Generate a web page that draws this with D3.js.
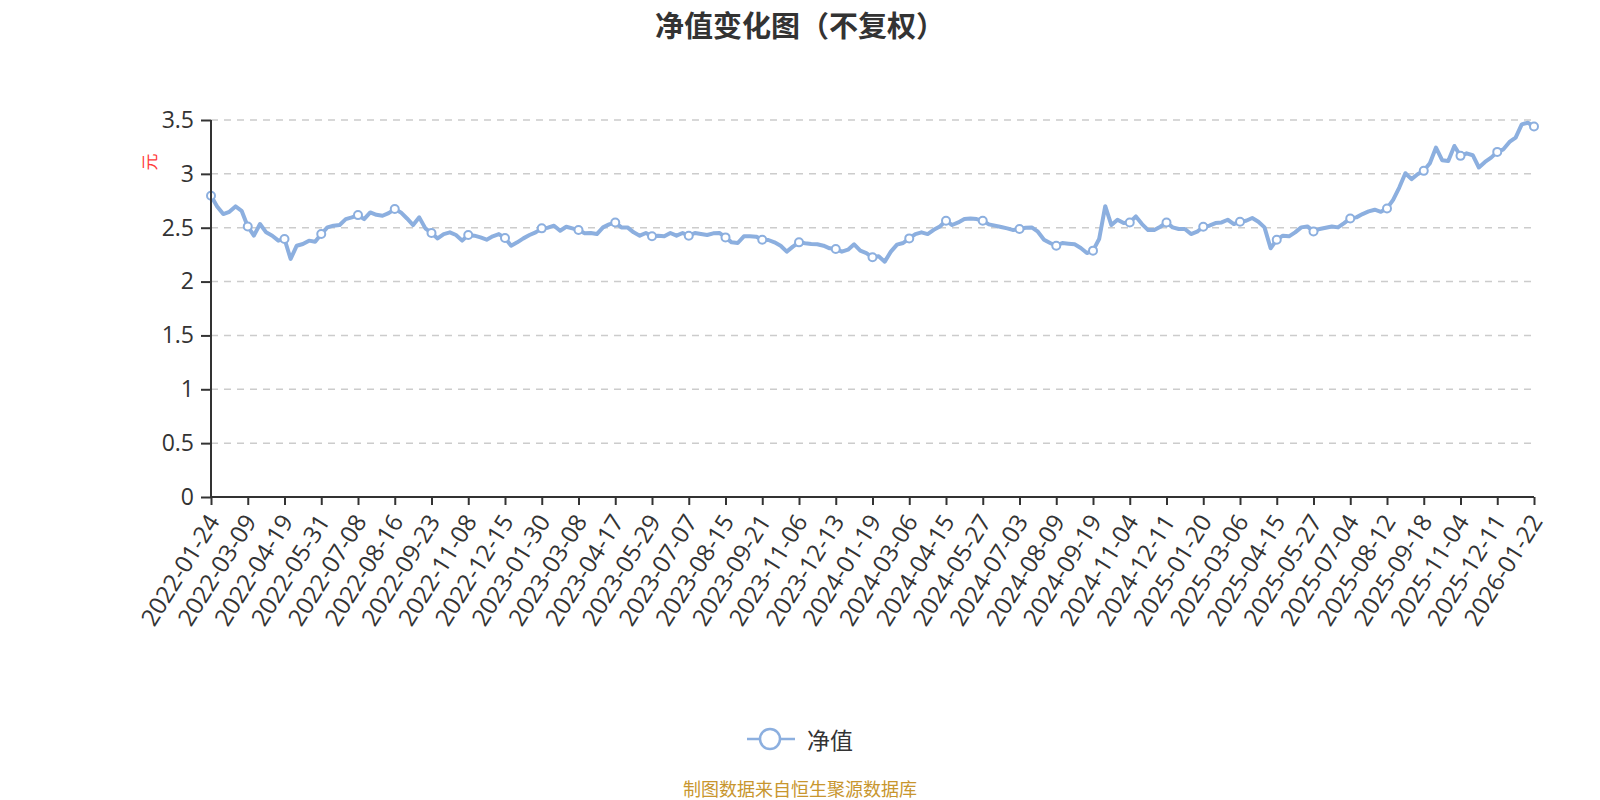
<!DOCTYPE html>
<html>
<head>
<meta charset="utf-8">
<script src="https://cdn.jsdelivr.net/npm/d3@7"></script>
<style>
  html, body { margin: 0; padding: 0; background: #fff; }
  #chart { width: 1600px; height: 800px; }
</style>
</head>
<body>
<div id="chart"></div>
<script>
/* Access data */
var chartTitle = "净值变化图（不复权）";
var seriesName = "净值";
var yUnit = "元";
var sourceNote = "制图数据来自恒生聚源数据库";

var tickLabels = [
  "2022-01-24", "2022-03-09", "2022-04-19", "2022-05-31", "2022-07-08", "2022-08-16",
  "2022-09-23", "2022-11-08", "2022-12-15", "2023-01-30", "2023-03-08", "2023-04-17",
  "2023-05-29", "2023-07-07", "2023-08-15", "2023-09-21", "2023-11-06", "2023-12-13",
  "2024-01-19", "2024-03-06", "2024-04-15", "2024-05-27", "2024-07-03", "2024-08-09",
  "2024-09-19", "2024-11-04", "2024-12-11", "2025-01-20", "2025-03-06", "2025-04-15",
  "2025-05-27", "2025-07-04", "2025-08-12", "2025-09-18", "2025-11-04", "2025-12-11",
  "2026-01-22"
];

// unit net value, 6 readings per labelled interval
var navValues = [
  2.796, 2.698, 2.627, 2.648, 2.698, 2.657,
  2.512, 2.426, 2.534, 2.457, 2.426, 2.380,
  2.395, 2.210, 2.333, 2.349, 2.380, 2.370,
  2.441, 2.503, 2.519, 2.525, 2.580, 2.596,
  2.617, 2.580, 2.642, 2.620, 2.611, 2.636,
  2.673, 2.642, 2.586, 2.525, 2.596, 2.494,
  2.451, 2.401, 2.441, 2.457, 2.432, 2.380,
  2.432, 2.426, 2.410, 2.389, 2.420, 2.441,
  2.404, 2.333, 2.364, 2.401, 2.432, 2.457,
  2.494, 2.500, 2.519, 2.472, 2.509, 2.494,
  2.478, 2.448, 2.451, 2.441, 2.503, 2.531,
  2.549, 2.503, 2.503, 2.457, 2.426, 2.451,
  2.420, 2.426, 2.420, 2.451, 2.426, 2.451,
  2.426, 2.451, 2.441, 2.432, 2.448, 2.451,
  2.410, 2.364, 2.358, 2.420, 2.420, 2.417,
  2.389, 2.386, 2.364, 2.333, 2.278, 2.324,
  2.364, 2.355, 2.349, 2.346, 2.333, 2.309,
  2.302, 2.278, 2.296, 2.346, 2.287, 2.265,
  2.225, 2.235, 2.185, 2.278, 2.343, 2.358,
  2.401, 2.441, 2.457, 2.441, 2.481, 2.512,
  2.565, 2.525, 2.549, 2.580, 2.586, 2.580,
  2.565, 2.531, 2.519, 2.506, 2.494, 2.478,
  2.488, 2.500, 2.503, 2.463, 2.389, 2.358,
  2.333, 2.358, 2.352, 2.346, 2.312, 2.265,
  2.287, 2.395, 2.700, 2.525, 2.574, 2.543,
  2.549, 2.605, 2.534, 2.478, 2.478, 2.509,
  2.549, 2.503, 2.488, 2.488, 2.441, 2.463,
  2.509, 2.519, 2.543, 2.549, 2.574, 2.534,
  2.556, 2.565, 2.590, 2.556, 2.503, 2.309,
  2.389, 2.426, 2.420, 2.457, 2.503, 2.512,
  2.466, 2.488, 2.500, 2.512, 2.503, 2.543,
  2.586, 2.596, 2.627, 2.651, 2.667, 2.648,
  2.679, 2.759, 2.873, 3.006, 2.951, 2.997,
  3.028, 3.099, 3.244, 3.127, 3.120, 3.259,
  3.167, 3.191, 3.173, 3.059, 3.111, 3.151,
  3.204, 3.228, 3.296, 3.336, 3.460, 3.475,
  3.440
];

var yTicks = [0, 0.5, 1, 1.5, 2, 2.5, 3, 3.5];
var pointsPerTick = 6;

var lineColor = "#8cafdf";
var axisColor = "#333";
var labelFont = "'Open Sans', 'Noto Sans CJK SC', sans-serif";
var cjkFont = "'Noto Sans CJK SC', 'Noto Sans', sans-serif";

// 2. Create chart dimensions
var dimensions = {
  width: 1600,
  height: 800,
  margin: { top: 120, right: 66, bottom: 303, left: 211 }
};
dimensions.boundedWidth = dimensions.width - dimensions.margin.left - dimensions.margin.right;
dimensions.boundedHeight = dimensions.height - dimensions.margin.top - dimensions.margin.bottom;

// 3. Draw canvas
var wrapper = d3.select("#chart")
  .append("svg")
  .attr("width", dimensions.width)
  .attr("height", dimensions.height);
var bounds = wrapper.append("g")
  .attr("transform", `translate(${dimensions.margin.left},${dimensions.margin.top})`);

// 4. Create scales
var indices = d3.range(navValues.length);
var xScale = d3.scalePoint()
  .domain(indices)
  .range([0, dimensions.boundedWidth]);
var yScale = d3.scaleLinear()
  .domain([0, 3.5])
  .range([dimensions.boundedHeight, 0]);

// gridlines
bounds.append("g")
  .selectAll("line")
  .data(yTicks.filter(d => d > 0))
  .join("line")
  .attr("x1", 0)
  .attr("x2", dimensions.boundedWidth)
  .attr("y1", d => yScale(d))
  .attr("y2", d => yScale(d))
  .attr("stroke", "#cccccc")
  .attr("stroke-width", 1.5)
  .attr("stroke-dasharray", "7,6");

// 5. Draw data
var lineGenerator = d3.line()
  .x((d, i) => xScale(i))
  .y(d => yScale(d));
bounds.append("path")
  .attr("d", lineGenerator(navValues))
  .attr("fill", "none")
  .attr("stroke", lineColor)
  .attr("stroke-width", 4)
  .attr("stroke-linejoin", "round");

var tickIdx = indices.filter(i => i % pointsPerTick === 0);
bounds.append("g")
  .selectAll("circle")
  .data(tickIdx)
  .join("circle")
  .attr("cx", i => xScale(i))
  .attr("cy", i => yScale(navValues[i]))
  .attr("r", 4)
  .attr("fill", "#fff")
  .attr("stroke", lineColor)
  .attr("stroke-width", 2);

// 6. Draw peripherals
var yAxis = bounds.append("g")
  .call(d3.axisLeft(yScale).tickValues(yTicks).tickSize(10).tickPadding(7).tickFormat(d3.format("~g")));
yAxis.select(".domain").attr("stroke", axisColor).attr("stroke-width", 2).attr("d", `M0,0V${dimensions.boundedHeight}`);
yAxis.selectAll(".tick line").attr("stroke", axisColor).attr("stroke-width", 2);
yAxis.selectAll(".tick text")
  .attr("fill", axisColor)
  .style("font-family", labelFont)
  .style("font-size", "23px");

var xAxis = bounds.append("g")
  .attr("transform", `translate(0,${dimensions.boundedHeight})`)
  .call(d3.axisBottom(xScale).tickValues(tickIdx).tickSize(8).tickFormat(i => tickLabels[i / pointsPerTick]));
xAxis.select(".domain").attr("stroke", axisColor).attr("stroke-width", 2).attr("d", `M0,0H${dimensions.boundedWidth}`);
xAxis.selectAll(".tick line").attr("stroke", axisColor).attr("stroke-width", 2);
xAxis.selectAll(".tick text")
  .attr("fill", axisColor)
  .attr("text-anchor", "end")
  .attr("dy", "0.35em")
  .attr("y", 0)
  .attr("transform", "translate(2,20) rotate(-58)")
  .style("font-family", labelFont)
  .style("font-size", "24px");

// unit label
wrapper.append("text")
  .attr("transform", "translate(148,162) rotate(-90)")
  .attr("text-anchor", "middle")
  .attr("dominant-baseline", "central")
  .attr("fill", "#ff3b3b")
  .style("font-family", cjkFont)
  .style("font-size", "17px")
  .text(yUnit);

// title
wrapper.append("text")
  .attr("x", dimensions.width / 2)
  .attr("y", 24)
  .attr("text-anchor", "middle")
  .attr("dominant-baseline", "central")
  .attr("fill", "#333")
  .style("font-family", cjkFont)
  .style("font-weight", "bold")
  .style("font-size", "29px")
  .text(chartTitle);

// legend
var legend = wrapper.append("g").attr("transform", "translate(747,739)");
legend.append("line")
  .attr("x1", 0).attr("x2", 48)
  .attr("stroke", lineColor).attr("stroke-width", 2.5);
legend.append("circle")
  .attr("cx", 23).attr("r", 10)
  .attr("fill", "#fff").attr("stroke", lineColor).attr("stroke-width", 2.5);
legend.append("text")
  .attr("x", 60)
  .attr("dominant-baseline", "central")
  .attr("fill", "#333")
  .style("font-family", cjkFont)
  .style("font-size", "23px")
  .text(seriesName);

// source note
wrapper.append("text")
  .attr("x", dimensions.width / 2)
  .attr("y", 788)
  .attr("text-anchor", "middle")
  .attr("dominant-baseline", "central")
  .attr("fill", "#c8962e")
  .style("font-family", cjkFont)
  .style("font-size", "18px")
  .text(sourceNote);
</script>
</body>
</html>
